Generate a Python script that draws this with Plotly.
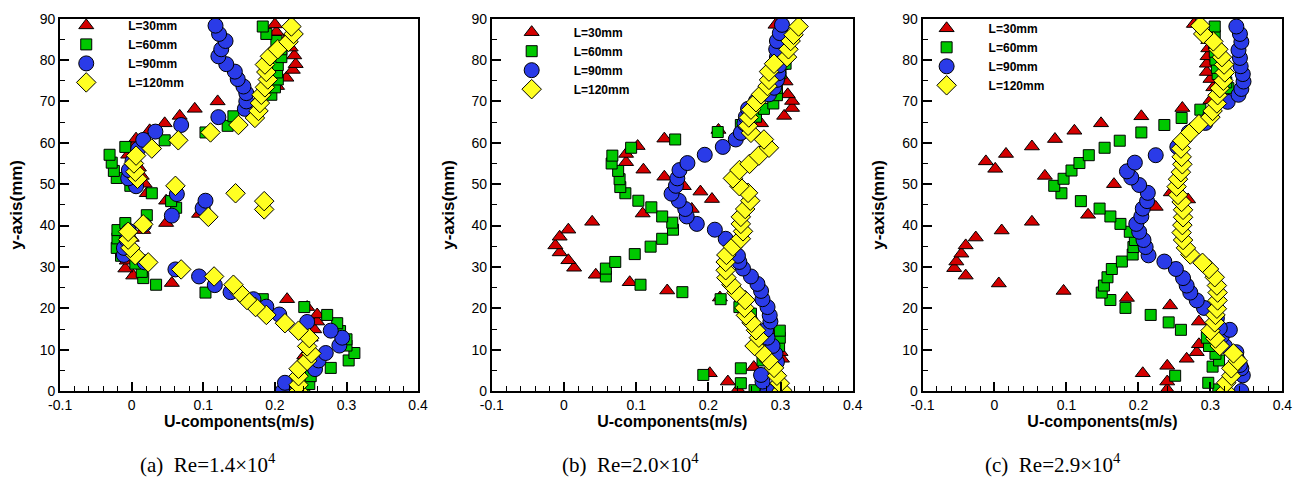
import plotly.graph_objects as go

# ---------------- data (U in m/s, y in mm) ----------------
series_names = ["L=30mm", "L=60mm", "L=90mm", "L=120mm"]
panel_titles = ["(a)&nbsp; Re=1.4×10<sup>4</sup>", "(b)&nbsp; Re=2.0×10<sup>4</sup>", "(c)&nbsp; Re=2.9×10<sup>4</sup>"]
x_tickvals = [-0.1, 0, 0.1, 0.2, 0.3, 0.4]
x_ticktext = ["-0.1", "0", "0.1", "0.2", "0.3", "0.4"]
y_tickvals = [0, 10, 20, 30, 40, 50, 60, 70, 80, 90]

# panel (a)
a_u30 = [0.236, 0.235, 0.235, 0.236, 0.238, 0.241, 0.245, 0.250, 0.255, 0.259, 0.259, 0.245, 0.217, 0.056, 0.002, -0.009, -0.007, -0.005, 0.000, 0.016, 0.048, 0.094, 0.048, 0.021, 0.018, 0.014, 0.010, -0.005, 0.002, 0.006, 0.025, 0.046, 0.067, 0.088, 0.120, 0.203, 0.216, 0.225, 0.229, 0.227, 0.222, 0.213, 0.202, 0.200]
a_y30 = [0.0, 1.6, 3.4, 5.3, 7.2, 8.6, 11.0, 12.9, 14.9, 16.8, 18.5, 20.3, 22.2, 26.1, 27.9, 29.6, 31.5, 35.0, 37.0, 38.9, 40.6, 42.8, 46.0, 47.8, 50.1, 52.0, 54.0, 57.1, 59.0, 61.0, 63.0, 64.7, 66.5, 68.2, 70.0, 73.7, 75.7, 77.6, 79.0, 81.1, 83.0, 84.5, 86.8, 88.6]
a_u60 = [0.241, 0.248, 0.250, 0.278, 0.303, 0.311, 0.300, 0.300, 0.291, 0.287, 0.273, 0.241, 0.183, 0.103, 0.034, 0.016, 0.014, 0.005, -0.015, -0.021, -0.020, -0.020, -0.009, 0.021, 0.062, 0.055, 0.028, -0.002, -0.021, -0.025, -0.028, -0.031, -0.009, 0.046, 0.103, 0.134, 0.142, 0.195, 0.200, 0.204, 0.203, 0.204, 0.209, 0.209, 0.202, 0.188, 0.183]
a_y60 = [0.0, 1.7, 3.6, 5.6, 7.4, 9.2, 11.0, 12.5, 14.5, 16.4, 18.4, 20.3, 22.2, 23.8, 25.7, 27.3, 28.8, 30.8, 32.7, 34.6, 36.9, 38.9, 40.6, 42.5, 44.3, 45.9, 47.8, 49.6, 51.5, 53.2, 55.2, 57.1, 59.0, 60.6, 62.5, 64.1, 66.4, 71.6, 73.4, 75.3, 77.0, 78.8, 80.7, 82.6, 84.6, 86.3, 88.1]
a_u90 = [0.211, 0.214, 0.256, 0.261, 0.271, 0.290, 0.294, 0.278, 0.245, 0.206, 0.188, 0.170, 0.138, 0.116, 0.094, 0.061, 0.018, -0.011, -0.011, -0.007, -0.004, 0.017, 0.056, 0.099, 0.103, 0.063, 0.006, -0.005, -0.004, 0.001, 0.009, 0.016, 0.033, 0.069, 0.121, 0.158, 0.160, 0.160, 0.156, 0.148, 0.144, 0.132, 0.121, 0.125, 0.131, 0.122, 0.117]
a_y90 = [0.0, 2.0, 5.3, 7.4, 9.2, 11.0, 12.9, 14.6, 16.7, 18.5, 20.4, 22.2, 23.9, 25.6, 27.7, 29.4, 31.1, 32.9, 34.6, 36.6, 38.7, 40.2, 42.4, 44.2, 46.0, 47.6, 49.5, 51.4, 53.4, 55.5, 58.5, 60.7, 62.7, 64.3, 66.2, 68.2, 70.0, 72.0, 73.6, 75.4, 77.2, 79.0, 80.9, 82.6, 84.6, 86.3, 88.3]
a_u120 = [0.233, 0.233, 0.233, 0.233, 0.245, 0.251, 0.245, 0.248, 0.233, 0.214, 0.188, 0.173, 0.161, 0.151, 0.142, 0.115, 0.069, 0.023, 0.005, -0.002, -0.005, -0.005, 0.016, 0.107, 0.185, 0.185, 0.145, 0.061, 0.008, 0.005, 0.003, 0.006, 0.028, 0.065, 0.110, 0.149, 0.172, 0.177, 0.179, 0.181, 0.186, 0.190, 0.188, 0.186, 0.193, 0.204, 0.219, 0.226, 0.223]
a_y120 = [0.0, 1.5, 3.6, 5.4, 7.3, 9.1, 10.8, 12.8, 14.6, 16.4, 18.4, 20.3, 22.0, 23.8, 25.7, 27.7, 29.4, 31.1, 32.8, 34.6, 36.6, 38.5, 40.3, 42.1, 43.9, 45.9, 47.8, 49.6, 51.3, 53.0, 55.0, 56.9, 58.6, 60.6, 62.5, 64.3, 66.0, 67.7, 69.6, 71.6, 73.4, 75.3, 77.1, 78.9, 80.9, 82.6, 84.4, 86.3, 88.1]

# panel (b)
b_u30 = [0.241, 0.227, 0.202, 0.263, 0.302, 0.300, 0.295, 0.290, 0.285, 0.264, 0.258, 0.216, 0.143, 0.091, 0.044, 0.014, 0.006, -0.006, -0.012, -0.006, 0.006, 0.039, 0.109, 0.177, 0.205, 0.189, 0.166, 0.139, 0.110, 0.086, 0.086, 0.102, 0.139, 0.214, 0.273, 0.305, 0.316, 0.316, 0.310, 0.307, 0.300, 0.296, 0.293]
b_y30 = [0.4, 2.3, 4.3, 5.8, 7.8, 9.4, 11.0, 12.5, 14.5, 16.5, 18.3, 22.6, 24.3, 26.3, 28.1, 29.8, 31.6, 33.5, 35.2, 37.3, 39.0, 40.9, 42.9, 44.0, 46.4, 48.2, 49.5, 51.8, 53.5, 55.3, 57.3, 59.2, 61.0, 63.1, 64.7, 66.5, 68.4, 70.1, 71.7, 74.8, 78.5, 83.0, 88.5]
b_u60 = [0.264, 0.245, 0.193, 0.245, 0.275, 0.298, 0.299, 0.299, 0.259, 0.243, 0.217, 0.164, 0.106, 0.058, 0.058, 0.071, 0.098, 0.120, 0.136, 0.151, 0.150, 0.136, 0.121, 0.103, 0.085, 0.078, 0.077, 0.075, 0.066, 0.067, 0.093, 0.154, 0.213, 0.245, 0.266, 0.277, 0.290, 0.295, 0.295, 0.300, 0.307, 0.305, 0.302, 0.300, 0.300, 0.302]
b_y60 = [0.2, 1.9, 3.9, 5.5, 7.4, 10.9, 12.9, 14.6, 18.7, 20.3, 22.2, 23.9, 25.7, 27.7, 29.6, 31.2, 33.1, 34.9, 36.8, 39.0, 40.7, 42.2, 44.4, 46.0, 47.8, 49.3, 51.2, 53.2, 55.0, 56.9, 58.8, 60.8, 62.6, 64.3, 66.3, 68.2, 69.5, 71.5, 73.3, 76.8, 79.1, 80.8, 82.6, 84.5, 86.3, 88.0]
b_u90 = [0.282, 0.275, 0.273, 0.295, 0.293, 0.289, 0.282, 0.280, 0.286, 0.285, 0.282, 0.275, 0.273, 0.268, 0.259, 0.248, 0.243, 0.241, 0.234, 0.224, 0.209, 0.184, 0.170, 0.168, 0.159, 0.149, 0.155, 0.157, 0.160, 0.171, 0.195, 0.220, 0.238, 0.245, 0.250, 0.252, 0.255, 0.266, 0.284, 0.291, 0.295, 0.297, 0.298, 0.295, 0.294, 0.295, 0.299, 0.302]
b_y90 = [0.0, 2.3, 3.9, 7.0, 9.0, 10.9, 12.9, 14.8, 16.8, 18.3, 20.3, 22.2, 24.2, 25.9, 27.7, 29.6, 31.2, 32.7, 35.1, 36.8, 39.0, 40.4, 42.2, 44.0, 46.0, 47.7, 49.6, 51.4, 53.4, 55.1, 57.1, 59.0, 60.8, 62.4, 64.7, 66.3, 68.2, 70.1, 71.7, 73.3, 75.2, 76.8, 78.7, 80.7, 82.6, 84.6, 86.5, 88.5]
b_u120 = [0.302, 0.299, 0.295, 0.291, 0.284, 0.275, 0.264, 0.270, 0.266, 0.260, 0.252, 0.250, 0.251, 0.239, 0.232, 0.225, 0.224, 0.224, 0.225, 0.234, 0.245, 0.248, 0.245, 0.245, 0.251, 0.258, 0.255, 0.243, 0.234, 0.243, 0.257, 0.270, 0.284, 0.277, 0.259, 0.255, 0.256, 0.259, 0.266, 0.273, 0.282, 0.284, 0.284, 0.291, 0.309, 0.311, 0.314, 0.318, 0.325]
b_y120 = [0.2, 1.9, 3.7, 5.6, 7.4, 9.2, 10.9, 12.9, 14.7, 16.5, 18.3, 20.1, 22.0, 23.8, 25.7, 27.4, 29.2, 31.2, 32.9, 34.9, 36.8, 38.6, 40.4, 42.1, 44.0, 46.0, 47.9, 49.5, 51.4, 53.4, 54.9, 56.9, 58.8, 60.8, 62.4, 64.1, 66.1, 68.0, 69.8, 71.7, 73.7, 75.2, 77.2, 79.1, 80.7, 82.6, 84.6, 86.1, 88.1]

# panel (c)
c_u30 = [0.240, 0.240, 0.206, 0.240, 0.267, 0.281, 0.284, 0.300, 0.318, 0.284, 0.244, 0.184, 0.096, 0.006, -0.040, -0.056, -0.053, -0.046, -0.040, -0.026, 0.010, 0.052, 0.130, 0.224, 0.269, 0.245, 0.166, 0.070, 0.001, -0.012, 0.016, 0.052, 0.084, 0.111, 0.148, 0.204, 0.261, 0.300, 0.304, 0.300, 0.295, 0.295, 0.296, 0.297, 0.297, 0.277]
c_y30 = [0.4, 2.3, 4.3, 6.1, 7.8, 9.4, 11.3, 13.0, 14.8, 16.8, 20.7, 22.5, 24.2, 26.0, 27.9, 29.7, 31.3, 33.2, 35.2, 37.1, 38.8, 40.9, 42.6, 44.5, 46.3, 48.0, 50.0, 52.0, 53.7, 55.5, 57.3, 59.1, 60.9, 62.9, 64.7, 66.4, 68.4, 70.3, 73.4, 75.4, 77.1, 79.1, 80.9, 82.8, 84.8, 88.7]
c_u60 = [0.311, 0.297, 0.251, 0.303, 0.312, 0.307, 0.298, 0.295, 0.259, 0.242, 0.217, 0.182, 0.161, 0.149, 0.152, 0.157, 0.163, 0.177, 0.192, 0.193, 0.195, 0.188, 0.175, 0.161, 0.146, 0.120, 0.093, 0.083, 0.096, 0.107, 0.118, 0.131, 0.153, 0.174, 0.204, 0.236, 0.260, 0.286, 0.325, 0.322, 0.310, 0.309, 0.307, 0.306, 0.305, 0.306, 0.306]
c_y60 = [0.4, 2.0, 3.7, 5.9, 7.4, 9.0, 10.9, 12.9, 14.8, 16.6, 18.4, 20.1, 22.0, 23.8, 25.5, 27.5, 29.5, 31.3, 33.0, 34.8, 36.5, 38.5, 40.4, 42.2, 44.1, 45.9, 47.8, 49.6, 51.3, 53.3, 55.1, 57.0, 58.8, 60.5, 62.5, 64.3, 66.0, 68.0, 73.2, 74.6, 76.6, 78.1, 80.1, 82.0, 84.0, 85.9, 88.1]
c_u90 = [0.343, 0.345, 0.343, 0.341, 0.338, 0.336, 0.320, 0.316, 0.327, 0.313, 0.309, 0.291, 0.281, 0.272, 0.267, 0.262, 0.252, 0.236, 0.214, 0.210, 0.207, 0.201, 0.197, 0.204, 0.206, 0.212, 0.213, 0.201, 0.190, 0.184, 0.195, 0.224, 0.254, 0.270, 0.293, 0.300, 0.324, 0.339, 0.343, 0.346, 0.345, 0.342, 0.341, 0.339, 0.343, 0.341, 0.336]
c_y90 = [0.0, 3.8, 5.5, 6.3, 7.4, 9.4, 10.9, 13.3, 14.8, 15.2, 17.6, 20.1, 21.9, 23.8, 25.5, 27.3, 29.5, 31.3, 32.8, 34.8, 36.5, 38.5, 40.4, 42.2, 44.1, 45.9, 47.9, 49.8, 51.6, 53.1, 55.2, 57.0, 59.0, 62.5, 64.8, 66.8, 69.9, 71.6, 73.0, 74.8, 76.6, 78.5, 80.5, 82.4, 84.4, 86.3, 88.1]
c_u120 = [0.321, 0.322, 0.329, 0.329, 0.338, 0.332, 0.313, 0.307, 0.300, 0.306, 0.307, 0.309, 0.310, 0.310, 0.309, 0.306, 0.298, 0.289, 0.272, 0.266, 0.262, 0.260, 0.261, 0.262, 0.262, 0.260, 0.255, 0.253, 0.255, 0.259, 0.261, 0.260, 0.259, 0.261, 0.272, 0.284, 0.300, 0.303, 0.309, 0.310, 0.313, 0.318, 0.320, 0.319, 0.316, 0.311, 0.304, 0.290, 0.286]
c_y120 = [0.0, 2.0, 3.7, 5.5, 7.3, 9.1, 10.9, 12.7, 14.6, 16.6, 18.4, 19.9, 21.9, 23.8, 25.5, 27.5, 29.5, 31.0, 33.0, 34.6, 36.5, 38.3, 40.1, 42.0, 43.8, 45.7, 47.4, 49.4, 51.2, 52.9, 54.8, 56.6, 58.6, 60.5, 62.5, 64.5, 66.2, 67.7, 69.5, 71.5, 73.2, 75.0, 77.0, 78.9, 80.7, 82.6, 84.5, 86.3, 88.3]

panels = [
    [(a_u30, a_y30), (a_u60, a_y60), (a_u90, a_y90), (a_u120, a_y120)],
    [(b_u30, b_y30), (b_u60, b_y60), (b_u90, b_y90), (b_u120, b_y120)],
    [(c_u30, c_y30), (c_u60, c_y60), (c_u90, c_y90), (c_u120, c_y120)],
]

# ---------------- styling ----------------
W, H = 1316, 490
marker_styles = [
    dict(symbol="triangle-up", color="#d40000", size=13),
    dict(symbol="square", color="#00c800", size=11),
    dict(symbol="circle", color="#2a3be8", size=15),
    dict(symbol="diamond", color="#ffff22", size=15),
]
x_domains = [(49 / W, 413 / W), (488 / W, 855 / W), (926 / W, 1292 / W)]
y_domain = (1 - 396 / H, 1 - 11 / H)
legend_x_px = [45, 498, 920]
legend_top_px = [3, 10, 6]
caption_x_px = [199, 629, 1059]
legend_pad = "\u2003"  # visual gap between legend symbol and label

fig = go.Figure()
axis_font = dict(family="Liberation Sans, Arial, sans-serif", size=14, color="black")
xtitle_font = dict(family="Liberation Sans, Arial, sans-serif", size=16, color="black", weight="bold")
ytitle_font = dict(family="Liberation Sans, Arial, sans-serif", size=17, color="black", weight="bold")

for p, data in enumerate(panels):
    xa = "x" if p == 0 else f"x{p + 1}"
    ya = "y" if p == 0 else f"y{p + 1}"
    lg = "legend" if p == 0 else f"legend{p + 1}"
    for s, (u, y) in enumerate(data):
        st = marker_styles[s]
        fig.add_trace(go.Scatter(
            x=u, y=y, mode="markers", name=legend_pad + series_names[s],
            xaxis=xa, yaxis=ya, legend=lg,
            marker=dict(symbol=st["symbol"], size=st["size"], color=st["color"],
                        line=dict(color="black", width=1)),
        ))
    sfx = "" if p == 0 else str(p + 1)
    fig.layout["xaxis" + sfx] = dict(
        domain=x_domains[p], anchor=ya, range=[-0.1, 0.4],
        tickvals=x_tickvals, ticktext=x_ticktext,
        ticks="inside", ticklen=9, tickwidth=1.5, tickcolor="black",
        minor=dict(dtick=0.02, tick0=0, ticks="inside", ticklen=5, tickwidth=1, tickcolor="black"),
        showline=True, linecolor="black", linewidth=2, mirror=True,
        showgrid=False, zeroline=False, tickfont=axis_font,
        title=dict(text="U-components(m/s)", font=xtitle_font, standoff=3),
    )
    fig.layout["yaxis" + sfx] = dict(
        domain=y_domain, anchor=xa, range=[0, 90],
        tickvals=y_tickvals,
        ticks="inside", ticklen=9, tickwidth=1.5, tickcolor="black",
        minor=dict(dtick=5, tick0=0, ticks="inside", ticklen=5, tickwidth=1, tickcolor="black"),
        showline=True, linecolor="black", linewidth=2, mirror=True,
        showgrid=False, zeroline=False, tickfont=axis_font,
        title=dict(text="y-axis(mm)", font=ytitle_font, standoff=13),
    )
    fig.layout[lg] = dict(
        x=legend_x_px[p] / W, y=1 - legend_top_px[p] / H, xanchor="left", yanchor="top",
        bgcolor="rgba(0,0,0,0)", borderwidth=0, itemwidth=50,
        font=dict(family="Liberation Sans, Arial, sans-serif", size=12, color="black", weight="bold"),
        tracegroupgap=0,
    )
    fig.add_annotation(
        xref="paper", yref="paper", x=caption_x_px[p] / W, y=1 - 471 / H,
        xanchor="center", yanchor="middle", showarrow=False,
        text=panel_titles[p],
        font=dict(family="Liberation Serif, Times New Roman, serif", size=21, color="black"),
    )

fig.update_layout(
    width=W, height=H, margin=dict(l=0, r=0, t=0, b=0),
    paper_bgcolor="white", plot_bgcolor="white", showlegend=True,
)

fig.write_html("out.html")
